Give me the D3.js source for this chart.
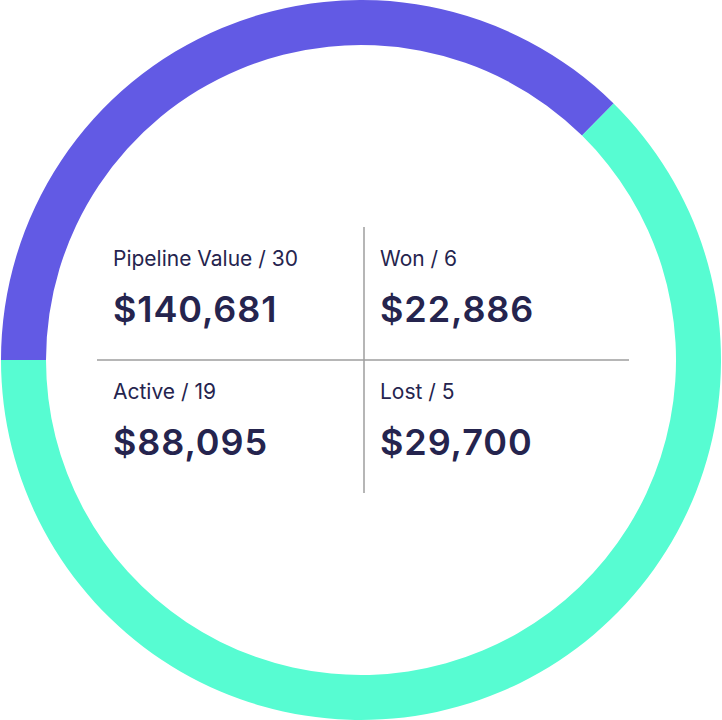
<!DOCTYPE html>
<html>
<head>
<meta charset="utf-8">
<script src="https://cdn.jsdelivr.net/npm/d3@7"></script>
<style>
  html, body { margin: 0; padding: 0; background: #fff; }
  svg { display: block; font-family: Inter, "Noto Sans", sans-serif; }
  .label { fill: #25244e; font-size: 21px; font-weight: 400; }
  .value { fill: #25244e; font-size: 36px; font-weight: 600; letter-spacing: 0.9px; }
  .divider { stroke: #9e9e9e; stroke-width: 1.5; }
</style>
</head>
<body>
<div id="chart"></div>
<script>
// Pipeline figures shown in the four cells
const stages = ["Pipeline Value", "Won", "Active", "Lost"];
const dealCounts = [30, 6, 19, 5];
const dealValues = [140681, 22886, 88095, 29700];

// Ring: closed (won + lost) in purple, active in green
const ringNames = ["Closed", "Active"];
const ringValues = [dealValues[1] + dealValues[3], dealValues[2]];
const ringColors = ["#625ae4", "#57fcd2"];

const width = 722, height = 720;
const cx = 361, cy = 360;
const outerR = 360, innerR = 315;

const svg = d3.select('#chart').append('svg')
    .attr('width', width)
    .attr('height', height);

const pie = d3.pie()
    .sort(null)
    .startAngle(-Math.PI / 2)
    .endAngle(Math.PI * 1.5)
    .value(d => d);

const arc = d3.arc().innerRadius(innerR).outerRadius(outerR);
const color = d3.scaleOrdinal().domain(ringNames).range(ringColors);

const g = svg.append('g').attr('transform', `translate(${cx},${cy})`);

g.selectAll('path')
    .data(pie(ringValues))
    .enter().append('path')
    .attr('d', arc)
    .attr('fill', (d, i) => color(ringNames[i]));

// Dividers
g.append('line').attr('class', 'divider')
    .attr('x1', -264).attr('x2', 268).attr('y1', 0).attr('y2', 0);
g.append('line').attr('class', 'divider')
    .attr('x1', 3).attr('x2', 3).attr('y1', -133).attr('y2', 133);

// Cell layout
const colX = d3.scaleOrdinal().domain([0, 1]).range([-248, 19]);
const rowY = d3.scaleOrdinal().domain([0, 1]).range([-94, 39]);
const fmt = d3.format('$,');

const cells = g.selectAll('.cell')
    .data(stages)
    .enter().append('g')
    .attr('class', 'cell')
    .attr('transform', (d, i) => `translate(${colX(i % 2)},${rowY(Math.floor(i / 2))})`);

cells.append('text')
    .attr('class', 'label')
    .text((d, i) => `${d} / ${dealCounts[i]}`);

cells.append('text')
    .attr('class', 'value')
    .attr('y', 56)
    .text((d, i) => fmt(dealValues[i]));
</script>
</body>
</html>
